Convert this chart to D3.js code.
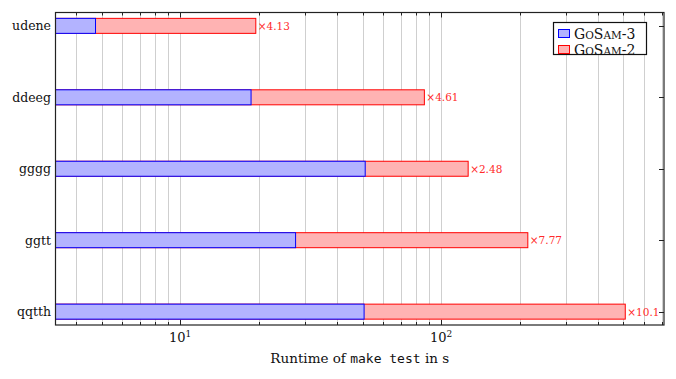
<!DOCTYPE html>
<html><head><meta charset="utf-8">
<script src="https://cdn.jsdelivr.net/npm/d3@7"></script>
<style>body{margin:0;background:#fff}svg{display:block}</style>
</head><body>
<svg id="c" width="676" height="379"></svg>
<script>
const categories = ["udene","ddeeg","gggg","ggtt","qqtth"];
const gosam3 = [4.74, 18.7, 51.2, 27.7, 50.7];
const gosam2 = [19.5, 86.3, 127, 215, 508];
const speedups = ["×4.13","×4.61","×2.48","×7.77","×10.1"];
const majorTicks = [10, 100];
const tickExp = ["1","2"];
const minorTicks = [4,5,6,7,8,9,20,30,40,50,60,70,80,90,200,300,400,500,600,700];
const seriesNames = [["Go","Sam","-3"],["Go","Sam","-2"]];

const L=55.5, R=664, T=12.5, B=325;
const serif = "DejaVu Serif, serif";
const svg = d3.select("#c");
const x = d3.scaleLog().domain([3.33, 715]).range([L, R]);
const y = d3.scalePoint().domain(categories).range([T, B]).padding(0.187);
const bh = 15;

// grid
svg.append("g").selectAll("line").data(minorTicks.concat(majorTicks)).join("line")
  .attr("x1", d=>Math.round(x(d))+0.5).attr("x2", d=>Math.round(x(d))+0.5)
  .attr("y1", T).attr("y2", B)
  .attr("stroke", "#cfcfcf").attr("stroke-width", 1);

// bars: red (GoSam-2) underneath, blue (GoSam-3) on top
svg.append("g").selectAll("rect").data(categories).join("rect")
  .attr("x", L).attr("y", d=>y(d)-bh/2)
  .attr("width", (d,i)=>x(gosam2[i])-L).attr("height", bh)
  .attr("fill", "#ffb3b3").attr("stroke", "#ff0000").attr("stroke-width", 1);
svg.append("g").selectAll("rect").data(categories).join("rect")
  .attr("x", L).attr("y", d=>y(d)-bh/2)
  .attr("width", (d,i)=>x(gosam3[i])-L).attr("height", bh)
  .attr("fill", "#b3b3ff").attr("stroke", "#0000ff").attr("stroke-width", 1);

// speedup labels
svg.append("g").selectAll("text").data(categories).join("text")
  .attr("x", (d,i)=>x(gosam2[i])+2).attr("y", d=>y(d)+4)
  .attr("fill", "#ff2a2a").attr("style", "font-family:" + serif + ";font-size:10.5px")
  .text((d,i)=>speedups[i]);

// frame
svg.append("rect").attr("x", L).attr("y", T).attr("width", R-L).attr("height", B-T)
  .attr("fill", "none").attr("stroke", "#222").attr("stroke-width", 1.2);

// x ticks bottom & top
const tk = svg.append("g").attr("stroke", "#222").attr("stroke-width", 1);
minorTicks.forEach(d=>{
  const xx = Math.round(x(d))+0.5;
  tk.append("line").attr("x1", xx).attr("x2", xx).attr("y1", B).attr("y2", B-3);
  tk.append("line").attr("x1", xx).attr("x2", xx).attr("y1", T).attr("y2", T+3);
});
majorTicks.forEach(d=>{
  const xx = Math.round(x(d))+0.5;
  tk.append("line").attr("x1", xx).attr("x2", xx).attr("y1", B).attr("y2", B-5);
  tk.append("line").attr("x1", xx).attr("x2", xx).attr("y1", T).attr("y2", T+5);
});
categories.forEach(c=>{
  const yy = Math.round(y(c))+0.5;
  tk.append("line").attr("x1", R).attr("x2", R-5).attr("y1", yy).attr("y2", yy);
});

// x tick labels
const xl = svg.append("g").attr("style", "font-family:" + serif + ";font-size:13px").attr("fill", "#111");
majorTicks.forEach((d,i)=>{
  const t = xl.append("text").attr("x", x(d)).attr("y", 342).attr("text-anchor", "middle");
  t.append("tspan").text("10");
  t.append("tspan").attr("dy", -5).attr("style", "font-size:9px").text(tickExp[i]);
});

// y labels
svg.append("g").selectAll("text").data(categories).join("text")
  .attr("x", 51).attr("y", d=>y(d)+4.5).attr("text-anchor", "end")
  .attr("style", "font-family:" + serif + ";font-size:12.5px").attr("fill", "#111")
  .text(d=>d);

// x axis label
const al = svg.append("text").attr("x", (L+R)/2).attr("y", 363).attr("text-anchor", "middle")
  .attr("style", "font-family:" + serif + ";font-size:13.5px").attr("fill", "#111");
al.append("tspan").text("Runtime of ");
al.append("tspan").attr("style", "font-family:DejaVu Sans Mono, monospace;font-size:13px").text("make test");
al.append("tspan").text(" in s");

// legend
const lg = svg.append("g");
lg.append("rect").attr("x", 553.5).attr("y", 22.5).attr("width", 93).attr("height", 32)
  .attr("fill", "#fff").attr("stroke", "#111").attr("stroke-width", 1.2);
const lcols = [["#b3b3ff","#0000ff"],["#ffb3b3","#ff0000"]];
seriesNames.forEach((n,i)=>{
  const yy = 29.5 + i*16;
  lg.append("rect").attr("x", 558.5).attr("y", yy).attr("width", 11).attr("height", 8)
    .attr("fill", lcols[i][0]).attr("stroke", lcols[i][1]).attr("stroke-width", 1);
  const t = lg.append("text").attr("x", 574).attr("y", yy+9)
    .attr("style", "font-family:" + serif + ";font-size:14px").attr("fill", "#111");
  t.append("tspan").text("G");
  t.append("tspan").attr("style", "font-size:10.5px").text("O");
  t.append("tspan").text("S");
  t.append("tspan").attr("style", "font-size:10.5px").text("AM");
  t.append("tspan").text(n[2]);
});
</script>
</body></html>
